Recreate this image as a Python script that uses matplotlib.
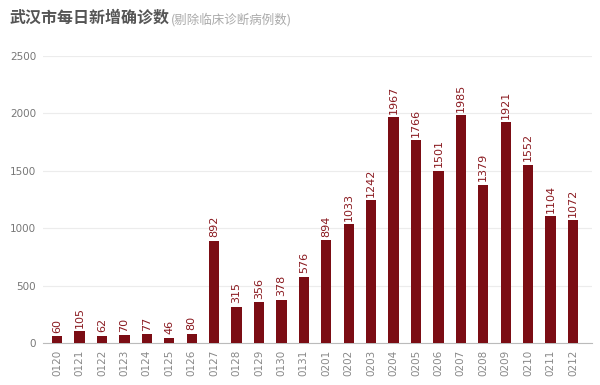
import matplotlib
matplotlib.use("Agg")
import matplotlib.pyplot as plt

plt.rcParams['font.family'] = ['Noto Sans CJK SC', 'DejaVu Sans']

# ── data ────────────────────────────────────────────────────────────────────
dates = ["0120", "0121", "0122", "0123", "0124", "0125", "0126", "0127",
         "0128", "0129", "0130", "0131", "0201", "0202", "0203", "0204",
         "0205", "0206", "0207", "0208", "0209", "0210", "0211", "0212"]
new_cases = [60, 105, 62, 70, 77, 46, 80, 892, 315, 356, 378, 576, 894,
             1033, 1242, 1967, 1766, 1501, 1985, 1379, 1921, 1552, 1104, 1072]
y_ticks = [0, 500, 1000, 1500, 2000, 2500]

BAR = "#7b0d14"

fig = plt.figure(figsize=(6, 3.85), dpi=100)
ax = fig.add_axes([0.0717, 0.109, 0.915, 0.7455])

x = range(len(dates))
ax.bar(x, new_cases, width=0.46, color=BAR, zorder=3)
for xi, v in zip(x, new_cases):
    ax.text(xi, v + 30, str(v), rotation=90, ha="center", va="bottom",
            fontsize=8, color="#8a1a20", family=["DejaVu Sans"])

ax.set_xlim(-0.63, len(dates) - 0.15)
ax.set_ylim(0, 2500)
ax.set_yticks(y_ticks)
ax.set_yticklabels([str(t) for t in y_ticks], fontsize=7.5, color="#777777",
                   family=["DejaVu Sans"])
ax.set_xticks(list(x))
ax.set_xticklabels(dates, rotation=90, fontsize=7.5, color="#888888",
                   family=["DejaVu Sans"])
ax.tick_params(length=0, pad=5)
ax.grid(axis="y", color="#ececec", lw=0.8, zorder=0)
for s in ["top", "right", "left"]:
    ax.spines[s].set_visible(False)
ax.spines["bottom"].set_color("#bbbbbb")

fig.text(0.016, 0.953, "武汉市每日新增确诊数", fontsize=11.5, fontweight="bold",
         color="#555555", ha="left", va="center")
fig.text(0.284, 0.950, "(剔除临床诊断病例数)", fontsize=9, color="#aaaaaa",
         ha="left", va="center")

fig.savefig("out.png", dpi=100, facecolor="white")
